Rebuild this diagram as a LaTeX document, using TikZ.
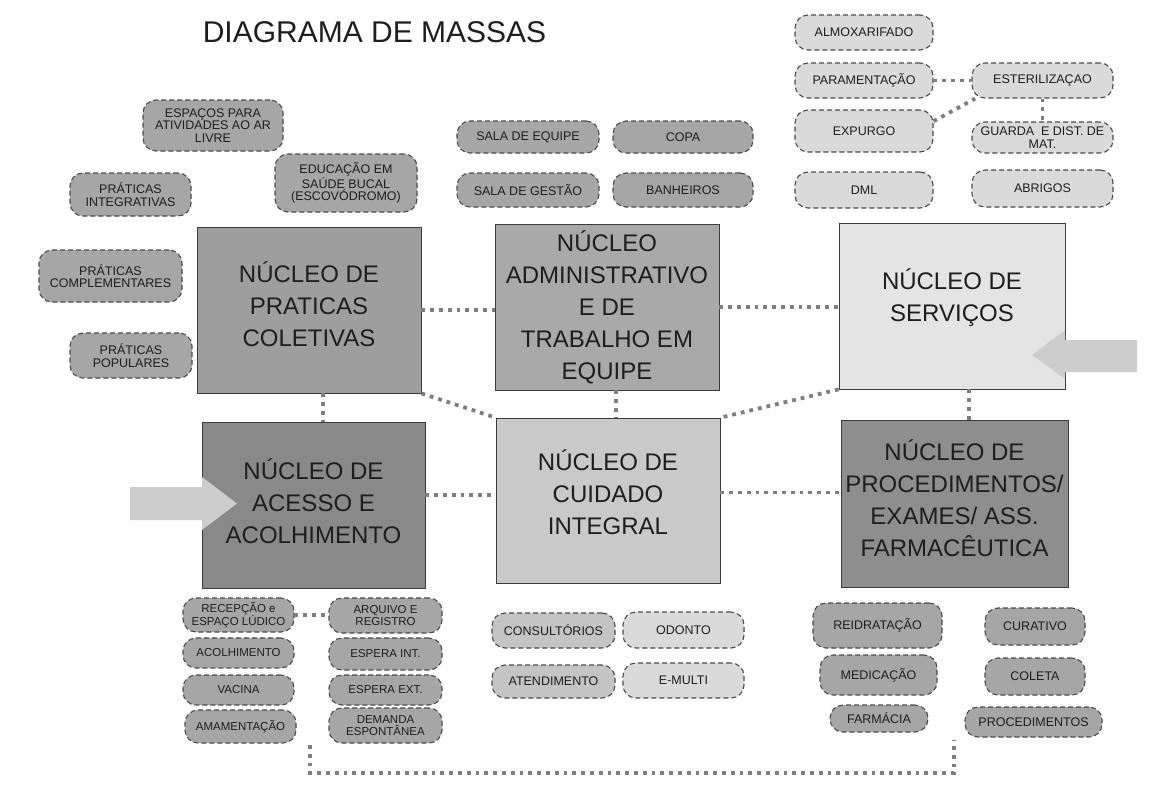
\documentclass[tikz,border=0pt]{standalone}
\usepackage{fontspec}
\setmainfont{Liberation Sans}
\usetikzlibrary{calc}
\definecolor{txt}{HTML}{1E1E1E}
\definecolor{boxline}{HTML}{3C3C3C}
\definecolor{pillline}{HTML}{4A4A4A}
\definecolor{pilldark}{HTML}{A6A6A6}
\definecolor{pillmid}{HTML}{C4C4C4}
\definecolor{pilllight}{HTML}{DADADA}
\definecolor{conncol}{HTML}{7E7E7E}
\definecolor{arrowcol}{HTML}{CDCDCD}
\definecolor{cPrat}{HTML}{9E9E9E}
\definecolor{cAdm}{HTML}{A9A9A9}
\definecolor{cServ}{HTML}{E4E4E4}
\definecolor{cAces}{HTML}{898989}
\definecolor{cCuid}{HTML}{C9C9C9}
\definecolor{cProc}{HTML}{8E8E8E}
\begin{document}
\begin{tikzpicture}[x=1pt,y=-1pt,
  box/.style={draw=boxline, line width=0.8pt, inner sep=0pt},
  lbl/.style={align=center, font=\fontsize{24}{32}\selectfont, text=txt},
  pill/.style={draw=pillline, line width=1.1pt, dash pattern=on 5pt off 3pt,
    rounded corners=13pt, align=center, inner sep=0pt,
    font=\fontsize{12.5}{12.5}\selectfont, text=txt},
  pd/.style={pill, fill=pilldark},
  pm/.style={pill, fill=pillmid},
  pl/.style={pill, fill=pilllight},
  small/.style={font=\fontsize{11.5}{12}\selectfont},
  sz/.style 2 args={minimum width=#1pt, minimum height=#2pt},
  conn/.style={draw=conncol, line width=3.8pt, dash pattern=on 3.8pt off 5pt},
  blockarrow/.style={fill=arrowcol, draw=none}]
\fill[white] (0,0) rectangle (1169,801);
\useasboundingbox (0,0) rectangle (1169,801);

% title
\node[anchor=base, font=\fontsize{30}{30}\selectfont, text=txt] (title) at (374.5,42) {DIAGRAMA DE MASSAS};

% main boxes
\node[box, fill=cPrat, sz={224}{166}, label={[lbl,yshift=6pt]center:{NÚCLEO DE\\PRATICAS\\COLETIVAS}}] (praticas) at (309,310) {};
\node[box, fill=cAces, sz={223}{166}, label={[lbl,yshift=4pt]center:{NÚCLEO DE\\ACESSO E\\ACOLHIMENTO}}] (acesso) at (313.5,505) {};
\node[box, fill=cAdm, sz={224}{166}, label={[lbl]center:{NÚCLEO\\ADMINISTRATIVO\\E DE\\TRABALHO EM\\EQUIPE}}] (admin) at (607,307) {};
\node[box, fill=cCuid, sz={224}{165}, label={[lbl,yshift=8pt]center:{NÚCLEO DE\\CUIDADO\\INTEGRAL}}] (cuidado) at (608,500.5) {};
\node[box, fill=cServ, sz={226}{166}, label={[lbl,yshift=8pt]center:{NÚCLEO DE\\SERVIÇOS}}] (servicos) at (952,306) {};
\node[box, fill=cProc, sz={227}{167}, label={[lbl,yshift=5pt]center:{NÚCLEO DE\\PROCEDIMENTOS/\\EXAMES/ ASS.\\FARMACÊUTICA}}] (procbox) at (954.5,503.5) {};

% top-left pills
\node[pd, sz={140}{51}] (espacos) at (213,125.5) {ESPAÇOS PARA\\ATIVIDADES AO AR\\LIVRE};
\node[pd, sz={121}{43}] (integr) at (130.5,194.5) {PRÁTICAS\\INTEGRATIVAS};
\node[pd, sz={142}{58}] (educ) at (346,183) {EDUCAÇÃO EM\\SAÚDE BUCAL\\(ESCOVÓDROMO)};
\node[pd, sz={143}{52}] (compl) at (110.5,276) {PRÁTICAS\\COMPLEMENTARES};
\node[pd, sz={122}{45}] (popul) at (131,355.5) {PRÁTICAS\\POPULARES};

% top-middle pills
\node[pd, sz={142}{32}] (salaeq) at (528,137) {SALA DE EQUIPE};
\node[pd, sz={140}{32}] (copa) at (683,137) {COPA};
\node[pd, sz={142}{34}] (salages) at (528,190) {SALA DE GESTÃO};
\node[pd, sz={140}{34}] (banh) at (683,190) {BANHEIROS};

% top-right pills
\node[pl, sz={138}{35}] (almox) at (864,32.5) {ALMOXARIFADO};
\node[pl, sz={138}{35}] (param) at (864,80.5) {PARAMENTAÇÃO};
\node[pl, sz={141}{35}] (ester) at (1042.5,80.5) {ESTERILIZAÇAO};
\node[pl, sz={138}{42}] (expurgo) at (864,131) {EXPURGO};
\node[pl, sz={141}{31}] (guarda) at (1042.5,137.5) {GUARDA\ \ E DIST. DE\\MAT.};
\node[pl, sz={138}{36}] (dml) at (864,190) {DML};
\node[pl, sz={141}{37}] (abrigos) at (1042.5,188.5) {ABRIGOS};

% bottom-left pills
\node[pd, small, sz={111}{34}] (recep) at (238.5,615) {RECEPÇÃO e\\ESPAÇO LÚDICO};
\node[pd, small, sz={111}{30}] (acolh) at (238.5,653) {ACOLHIMENTO};
\node[pd, small, sz={111}{30}] (vacina) at (238.5,690) {VACINA};
\node[pd, small, sz={111}{33}] (amam) at (240.5,726.5) {AMAMENTAÇÃO};
\node[pd, small, sz={113}{35}] (arquivo) at (385.5,615.5) {ARQUIVO E\\REGISTRO};
\node[pd, small, sz={113}{32}] (esperaint) at (385.5,654) {ESPERA INT.};
\node[pd, small, sz={113}{30}] (esperaext) at (385.5,690) {ESPERA EXT.};
\node[pd, small, sz={113}{35}] (demanda) at (385.5,725.5) {DEMANDA\\ESPONTÂNEA};

% bottom-middle pills
\node[pm, sz={123}{35}] (consult) at (553.5,630.5) {CONSULTÓRIOS};
\node[pl, sz={121}{36}] (odonto) at (683.5,630) {ODONTO};
\node[pm, sz={123}{33}] (atend) at (553.5,681.5) {ATENDIMENTO};
\node[pl, sz={121}{35}] (emulti) at (683.5,680.5) {E-MULTI};

% bottom-right pills
\node[pd, sz={129}{45}] (reidrat) at (877.5,625.5) {REIDRATAÇÃO};
\node[pd, sz={100}{37}] (curativo) at (1035,626.5) {CURATIVO};
\node[pd, sz={117}{40}] (medic) at (878.5,675) {MEDICAÇÃO};
\node[pd, sz={100}{37}] (coleta) at (1035,676.5) {COLETA};
\node[pd, sz={98}{27}] (farmacia) at (879,718.5) {FARMÁCIA};
\node[pd, sz={137}{30}] (proced) at (1033.5,722) {PROCEDIMENTOS};

% connectors between main boxes
\draw[conn] (praticas.east) -- (praticas.east -| admin.west);
\draw[conn] ([xshift=14pt]praticas.south) -- ([xshift=14pt]praticas.south |- acesso.north);
\draw[conn] (praticas.south east) -- (cuidado.north west);
\draw[conn] ([xshift=9pt]admin.south) -- ([xshift=9pt]admin.south |- cuidado.north);
\draw[conn] (admin.east) -- (admin.east -| servicos.west);
\draw[conn] (servicos.south west) -- (cuidado.north east);
\draw[conn] ([xshift=17pt]servicos.south) -- ([xshift=17pt]servicos.south |- procbox.north);
\draw[conn] ([yshift=10pt]acesso.east) -- ([yshift=10pt]acesso.east -| cuidado.west);
\draw[conn] ([yshift=8pt]cuidado.east) -- ([yshift=8pt]cuidado.east -| procbox.west);

% connectors between pills
\draw[conn] (param.east) -- (ester.west);
\draw[conn] (expurgo.8) -- (ester.195);
\draw[conn] (ester.south) -- (guarda.north);
\draw[conn] (recep.east) -- (recep.east -| arquivo.west);

% bottom group connector
\coordinate (grpL) at (310,745);
\coordinate (grpR) at (954,740);
\draw[conn] (grpL) -- ++(0,28) -| (grpR);

% block arrows
\fill[blockarrow] (130,487) -- (202,487) -- (202,477) -- (237,503.5) -- (202,530) -- (202,520) -- (130,520) -- cycle;
\fill[blockarrow] (1137,340) -- (1065,340) -- (1065,330) -- (1032,355) -- (1065,379) -- (1065,372) -- (1137,372) -- cycle;
\end{tikzpicture}
\end{document}
